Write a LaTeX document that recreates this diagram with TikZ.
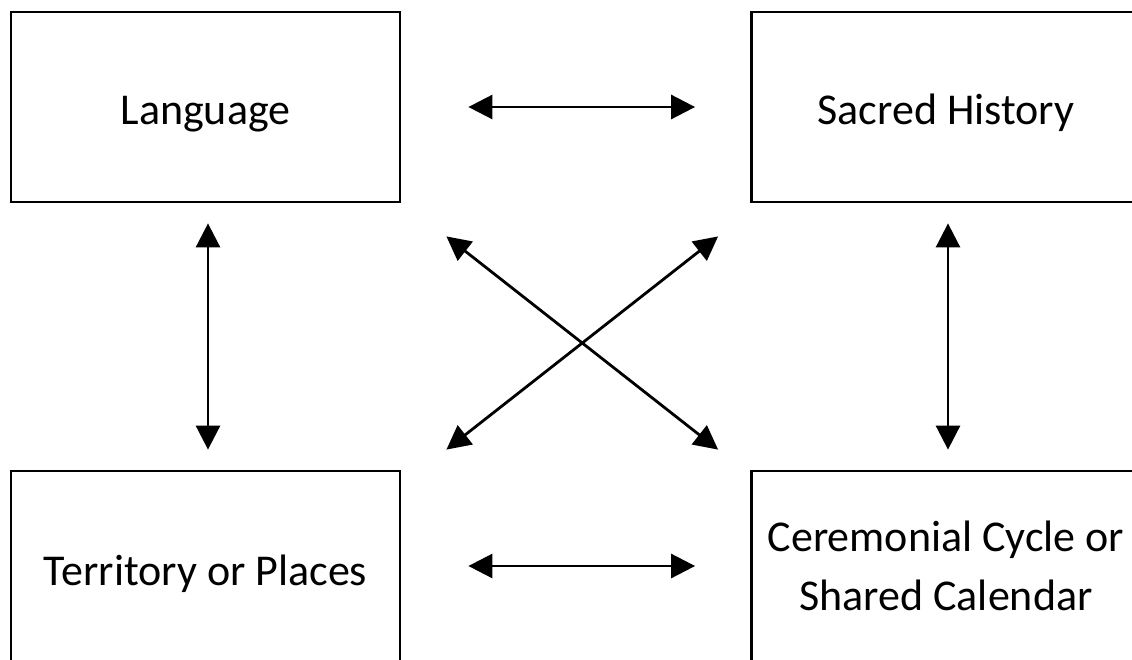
\documentclass[tikz,border=0pt]{standalone}
\usepackage{fontspec}
\setmainfont{Carlito}
\usetikzlibrary{arrows.meta}
\begin{document}
\begin{tikzpicture}[x=1pt,y=-1pt,
    box/.style={draw,line width=2.8pt,minimum width=389pt,minimum height=190pt,
      font=\fontsize{44}{59}\selectfont,inner sep=0pt},
    link/.style={line width=2.8pt,{Triangle[length=24pt,width=24pt]}-{Triangle[length=24pt,width=24pt]}}]
      \clip (0,0) rectangle (1132,659);
      \node[box] (lang) at (205.5,107) {\raisebox{-17pt}[0pt][0pt]{Language}};
      \node[box] (hist) at (946,107) {\raisebox{-17pt}[0pt][0pt]{Sacred History}};
      \node[box] (terr) at (205.5,566) {\raisebox{-19pt}[0pt][0pt]{Territory or Places}};
      \node[box] (cere) at (946,566) {\raisebox{15pt}[0pt][0pt]{\makebox[0pt]{Ceremonial Cycle or}}%
        \raisebox{-44pt}[0pt][0pt]{\makebox[0pt]{Shared Calendar}}};
      \draw[link,shorten <=67pt,shorten >=55pt] (lang.east) -- (hist.west);
      \draw[link,shorten <=67pt,shorten >=55pt] (terr.east) -- (cere.west);
      \draw[link,shorten <=20pt,shorten >=20pt] ([xshift=2.5pt]lang.south) -- ([xshift=2.5pt]terr.north);
      \draw[link,shorten <=20pt,shorten >=20pt] ([xshift=2pt]hist.south) -- ([xshift=2pt]cere.north);
      \draw[link] ([shift={(45,33)}]lang.south east) -- ([shift={(-32,-20)}]cere.north west);
      \draw[link] ([shift={(45,-20)}]terr.north east) -- ([shift={(-32,33)}]hist.south west);
    \end{tikzpicture}
\end{document}
